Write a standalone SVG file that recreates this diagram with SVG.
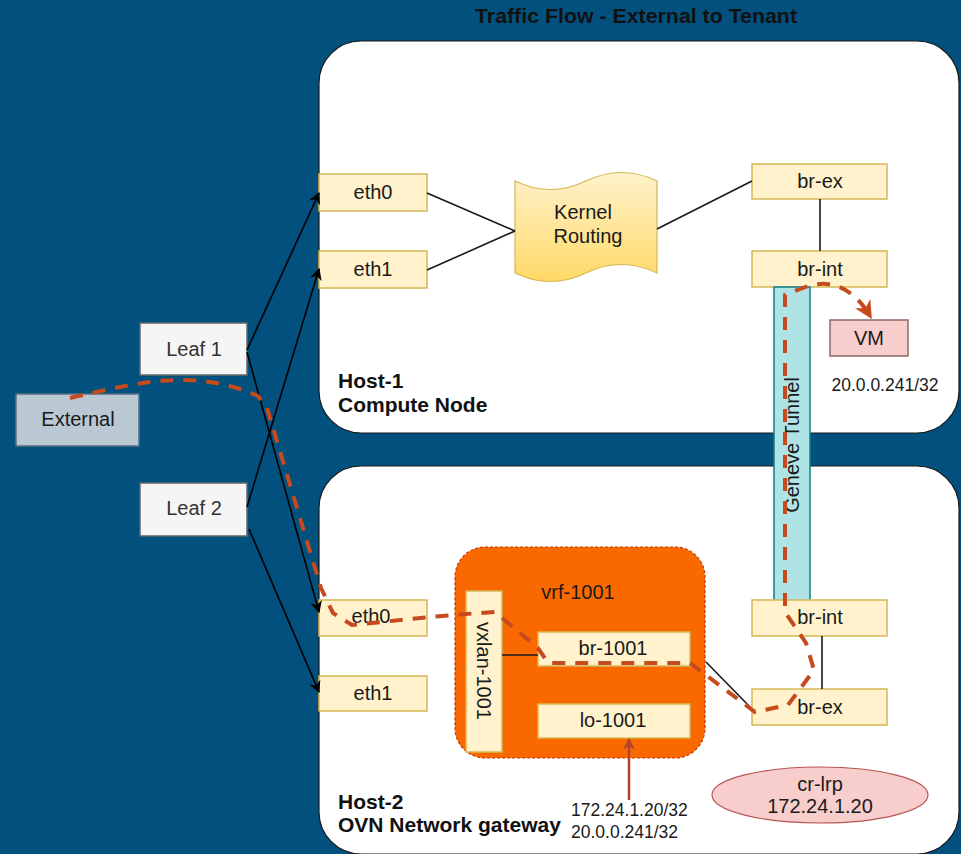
<svg xmlns="http://www.w3.org/2000/svg" width="961" height="854" viewBox="0 0 961 854">
  <defs>
    <style>
      .t { font-family: "Liberation Sans", Arial, Helvetica, sans-serif; font-size: 20px; fill: #1a1a1a; text-anchor: middle; }
      .tb { font-family: "Liberation Sans", Arial, Helvetica, sans-serif; font-size: 21px; font-weight: bold; fill: #111; }
      .ip { font-family: "Liberation Sans", Arial, Helvetica, sans-serif; font-size: 17.5px; fill: #1a1a1a; }
      .host { fill: #ffffff; stroke: #1a1a1a; stroke-width: 1.2; }
      .port { fill: #fff2cc; stroke: #d6b656; stroke-width: 1.5; }
      .leaf { fill: #f5f5f5; stroke: #666666; stroke-width: 1.5; }
      .wire { fill: none; stroke: #1a1a1a; stroke-width: 1.6; }
      .link { fill: none; stroke: #000; stroke-width: 1.6; marker-end: url(#arrow); }
      .flow { fill: none; stroke: #c64a1d; stroke-width: 4; stroke-dasharray: 13 10; }
    </style>
    <marker id="arrow" viewBox="0 0 10 10" refX="9" refY="5" markerWidth="12" markerHeight="12" markerUnits="userSpaceOnUse" orient="auto">
      <path d="M0,0 L10,5 L0,10 L3,5 Z" fill="#000"/>
    </marker>
    <marker id="flowHead" viewBox="0 0 10 10" refX="8" refY="5" markerWidth="18" markerHeight="18" markerUnits="userSpaceOnUse" orient="auto">
      <path d="M0,0 L10,5 L0,10 L3,5 Z" fill="#c64a1d"/>
    </marker>
    <marker id="redHead" viewBox="0 0 10 10" refX="9" refY="5" markerWidth="12" markerHeight="12" markerUnits="userSpaceOnUse" orient="auto">
      <path d="M0,0 L10,5 L0,10 L3,5 Z" fill="#b5432a"/>
    </marker>
    <linearGradient id="tapeFill" x1="0" y1="0" x2="0" y2="1">
      <stop offset="0" stop-color="#fff2cc"/>
      <stop offset="1" stop-color="#ffd966"/>
    </linearGradient>
  </defs>

  <!-- page background -->
  <rect x="0" y="0" width="961" height="854" fill="#02507d"/>

  <text x="636" y="23" class="tb" text-anchor="middle" textLength="322" lengthAdjust="spacingAndGlyphs" fill="#0a0a0a">Traffic Flow - External to Tenant</text>

  <!-- Host-1: compute node -->
  <g id="host1">
    <rect class="host" x="319" y="41" width="640" height="392" rx="42"/>
    <text class="tb" x="338" y="388">Host-1</text>
    <text class="tb" x="338" y="412">Compute Node</text>
  </g>

  <!-- Host-2: OVN network gateway -->
  <g id="host2">
    <rect class="host" x="319" y="466" width="640" height="388" rx="42"/>
    <text class="tb" x="338" y="809">Host-2</text>
    <text class="tb" x="338" y="832">OVN Network gateway</text>
  </g>

  <g id="external">
    <rect x="16" y="394" width="123" height="52" fill="#bac8d3" stroke="#5a6f80" stroke-width="1.5"/>
    <text class="t" x="78" y="426" fill="#333">External</text>
  </g>
  <g id="leaf1">
    <rect class="leaf" x="140" y="323" width="107" height="52"/>
    <text class="t" x="194" y="356" style="fill:#333">Leaf 1</text>
  </g>
  <g id="leaf2">
    <rect class="leaf" x="140" y="483" width="107" height="53"/>
    <text class="t" x="194" y="515" style="fill:#333">Leaf 2</text>
  </g>

  <g id="h1-eth0">
    <rect class="port" x="319" y="174" width="108" height="37"/>
    <text class="t" x="373" y="199">eth0</text>
  </g>
  <g id="h1-eth1">
    <rect class="port" x="319" y="251" width="108" height="37"/>
    <text class="t" x="373" y="276">eth1</text>
  </g>
  <g id="kernel-routing">
    <path d="M515,181 Q550.5,198 586,181 Q621.5,164 657,181 L657,273 Q621.5,256 586,273 Q550.5,290 515,273 Z" fill="url(#tapeFill)" stroke="#d6b656" stroke-width="1.2"/>
    <text class="t" x="583" y="219">Kernel</text>
    <text class="t" x="588" y="243">Routing</text>
  </g>
  <g id="h1-br-ex">
    <rect class="port" x="752" y="164" width="135" height="35"/>
    <text class="t" x="820" y="188">br-ex</text>
  </g>
  <g id="h1-br-int">
    <rect class="port" x="752" y="251" width="135" height="36"/>
    <text class="t" x="820" y="276">br-int</text>
  </g>
  <g id="vm">
    <rect x="830" y="320" width="78" height="36" fill="#f8cecc" stroke="#8c6a68" stroke-width="1.5"/>
    <text class="t" x="869" y="345">VM</text>
    <text class="ip" x="885" y="391" text-anchor="middle">20.0.0.241/32</text>
  </g>

  <g id="geneve-tunnel">
    <rect x="774" y="287" width="36" height="317" fill="#b0e3e6" stroke="#0e8088" stroke-width="1.5"/>
    <text class="t" x="792" y="445" transform="rotate(-90 792 445)" dy="7">Geneve Tunnel</text>
  </g>

  <g id="h2-eth0">
    <rect class="port" x="319" y="600" width="108" height="36"/>
    <text class="t" x="371" y="623">eth0</text>
  </g>
  <g id="h2-eth1">
    <rect class="port" x="319" y="676" width="108" height="35"/>
    <text class="t" x="373" y="700">eth1</text>
  </g>

  <g id="vrf-1001">
    <rect x="455" y="547" width="250" height="211" rx="30" fill="#fa6800" stroke="#c73500" stroke-width="1.2" stroke-dasharray="3 2"/>
    <text class="t" x="578" y="599">vrf-1001</text>
  </g>
  <g id="vxlan-1001">
    <rect class="port" x="466" y="591" width="36" height="161"/>
    <text class="t" x="484" y="671" dy="7" transform="rotate(90 484 671)">vxlan-1001</text>
  </g>
  <g id="br-1001">
    <rect class="port" x="538" y="632" width="152" height="34"/>
    <text class="t" x="613" y="655">br-1001</text>
  </g>
  <g id="lo-1001">
    <rect class="port" x="538" y="704" width="152" height="34"/>
    <text class="t" x="613" y="727">lo-1001</text>
  </g>

  <g id="h2-br-int">
    <rect class="port" x="752" y="600" width="135" height="36"/>
    <text class="t" x="820" y="624">br-int</text>
  </g>
  <g id="h2-br-ex">
    <rect class="port" x="752" y="689" width="135" height="36"/>
    <text class="t" x="820" y="714">br-ex</text>
  </g>
  <g id="cr-lrp">
    <ellipse cx="820" cy="795" rx="108" ry="28" fill="#f8cecc" stroke="#b85450" stroke-width="1.2"/>
    <text class="t" x="820" y="791">cr-lrp</text>
    <text class="t" x="820" y="813">172.24.1.20</text>
  </g>

  <g id="advertised-routes">
    <text class="ip" x="571" y="816">172.24.1.20/32</text>
    <text class="ip" x="571" y="838">20.0.0.241/32</text>
  </g>

  <!-- connectors -->
  <g id="connectors">
    <line class="link" x1="247" y1="350" x2="319" y2="193"/>
    <line class="link" x1="247" y1="507" x2="319" y2="269"/>
    <line class="link" x1="247" y1="352" x2="319" y2="612"/>
    <line class="link" x1="249" y1="529" x2="319" y2="692"/>

    <line class="wire" x1="427" y1="193" x2="515" y2="231"/>
    <line class="wire" x1="427" y1="270" x2="515" y2="231"/>
    <line class="wire" x1="657" y1="229" x2="752" y2="181"/>
    <line class="wire" x1="820" y1="199" x2="820" y2="251"/>

    <line class="wire" x1="502" y1="655" x2="538" y2="655"/>
    <line class="wire" x1="706" y1="662" x2="751" y2="708"/>
    <line class="wire" x1="822" y1="636" x2="822" y2="689"/>

    <line x1="629" y1="800" x2="629" y2="739" stroke="#b5432a" stroke-width="2.5" marker-end="url(#redHead)"/>

    <!-- traffic path external -> tenant VM -->
    <path class="flow" marker-end="url(#flowHead)" d="M70,398 C140,382 195,368 258,396 L267,408 L321,588 L333,613 L352,625 L430,617 L466,614 L495,612 L538,648 L548,663 L690,663 L755,712 L788,705 L814,670 L806,643 L785,612 L785,295 L800,289 C828,277 852,286 870,316"/>
  </g>
</svg>
